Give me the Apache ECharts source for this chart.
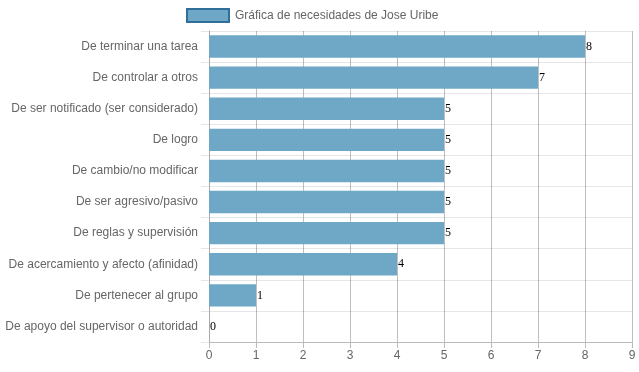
<!DOCTYPE html>
<html><head><meta charset="utf-8">
<script src="https://cdn.jsdelivr.net/npm/echarts@6/dist/echarts.min.js"></script>
<style>html,body{margin:0;padding:0;background:#fff}#c{width:639px;height:372px}</style>
</head><body><div id="c"></div>
<script>
const categories = ["De terminar una tarea","De controlar a otros","De ser notificado (ser considerado)","De logro","De cambio/no modificar","De ser agresivo/pasivo","De reglas y supervisión","De acercamiento y afecto (afinidad)","De pertenecer al grupo","De apoyo del supervisor o autoridad"];
const values = [8,7,5,5,5,5,5,4,1,0];
const seriesName = "Gráfica de necesidades de Jose Uribe";
const chart = echarts.init(document.getElementById('c'), null, {renderer:'canvas'});
chart.setOption({
  animation:false,
  legend:{top:3,left:181,itemWidth:42,itemHeight:13,itemGap:10,
    textStyle:{fontFamily:'Liberation Sans, Arial',fontSize:12,color:'#666',padding:[0,0,0,1]},
    data:[{name:seriesName,icon:'rect',itemStyle:{color:'#6fa7c6',borderColor:'#2f6f9a',borderWidth:2}}]},
  grid:{left:209,right:7,top:31,bottom:30,containLabel:false},
  xAxis:{type:'value',min:0,max:9,interval:1,
    axisLine:{show:true,lineStyle:{color:'#bbb'}},
    axisTick:{show:true,length:6,lineStyle:{color:'#bbb'}},
    axisLabel:{color:'#666',fontFamily:'Liberation Sans, Arial',fontSize:12,margin:8},
    splitLine:{show:true,lineStyle:{color:'rgba(0,0,0,0.25)'}}},
  yAxis:{type:'category',inverse:true,data:categories,
    axisLine:{show:true,lineStyle:{color:'#aaa'}},
    axisTick:{show:true,length:8,lineStyle:{color:'#e6e6e6'}},
    axisLabel:{color:'#666',fontFamily:'Liberation Sans, Arial',fontSize:12,margin:11},
    splitLine:{show:true,lineStyle:{color:'#e6e6e6'}}},
  series:[{name:seriesName,type:'bar',data:values,barWidth:'72%',
    itemStyle:{color:'#6fa7c6'},
    label:{show:true,position:'right',distance:1,color:'#000',fontFamily:'Liberation Serif, serif',fontSize:12}}]
});
</script></body></html>
